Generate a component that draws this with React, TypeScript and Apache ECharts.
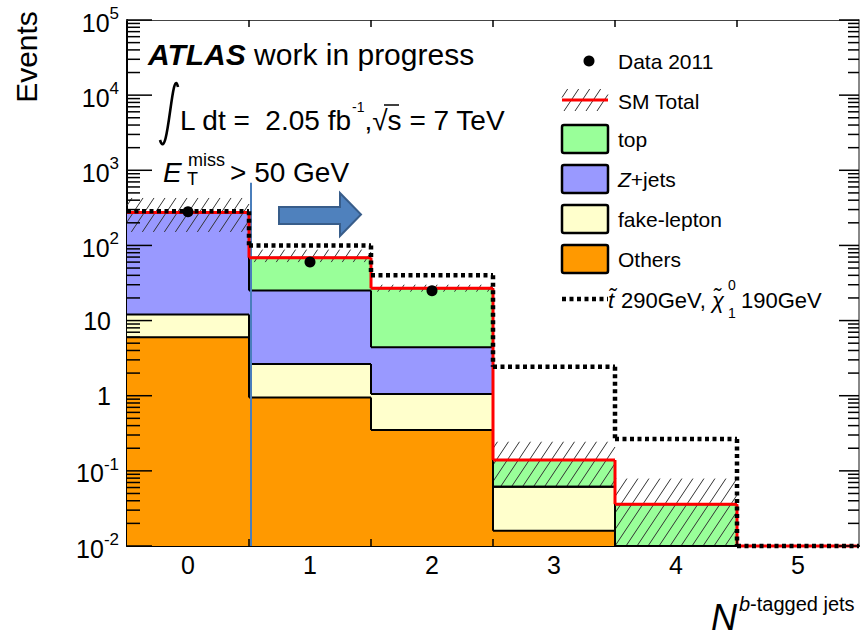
import React, { useEffect, useRef } from 'react';
import * as echarts from 'echarts';

// ---------------- data ----------------
const categories = ['0', '1', '2', '3', '4', '5'];
const others = [6.0, 0.95, 0.35, 0.016, 0, 0];
const fakeLepton = [6.0, 1.69, 0.7, 0.0455, 0, 0];
const zJets = [262, 22.4, 3.35, 0, 0, 0];
const topQuark = [1, 43.7, 22.5, 0.0775, 0.036, 0];
const data2011 = [280, 60, 25, 0, 0, 0];
const signalStop = [285, 100, 40, 2.43, 0.265, 0];
const bandUp = [428, 88, 30, 0.244, 0.079, 0];
const bandDown = [151, 60, 24.2, 0.0615, 0.01, 0];
const yTickExponents = [-2, -1, 0, 1, 2, 3, 4, 5];
const Y_MIN = 0.01;
const Y_MAX = 1e5;
const cutTop = 680;

const FONT = "'Liberation Sans', Arial, Helvetica, sans-serif";

const GRID = { left: 127, right: 2, top: 20, bottom: 92 };
const W = 861;
const H = 638;

const layers = [
  { name: 'Others', values: others, color: '#ff9900' },
  { name: 'fake-lepton', values: fakeLepton, color: '#ffffcc' },
  { name: 'Z+jets', values: zJets, color: '#9999ff' },
  { name: 'top', values: topQuark, color: '#99ff99' },
];

const cumulative = layers.map((_, k) =>
  categories.map((__, i) => layers.slice(0, k + 1).reduce((s, l) => s + l.values[i], 0))
);
const smTotal = cumulative[cumulative.length - 1];
const clampY = (v: number) => Math.max(v, Y_MIN);

const majorTickValues = yTickExponents.map((e) => Math.pow(10, e));
const minorTickValues: number[] = [];
for (let e = -2; e < 5; e++) for (let m = 2; m <= 9; m++) minorTickValues.push(m * Math.pow(10, e));

function hatchLines(x0: number, y0: number, x1: number, y1: number, spacing = 11, k = 1.5) {
  const out: number[][] = [];
  const cStart = Math.ceil((x0 + y0 / k) / spacing) * spacing;
  const cEnd = x1 + y1 / k;
  for (let c = cStart; c <= cEnd; c += spacing) {
    const xa = Math.max(x0, c - y1 / k);
    const xb = Math.min(x1, c - y0 / k);
    if (xb > xa) out.push([xa, k * (c - xa), xb, k * (c - xb)]);
  }
  return out;
}

function hatchElements(x0: number, y0: number, x1: number, y1: number) {
  return hatchLines(x0, y0, x1, y1).map((l) => ({
    type: 'line',
    shape: { x1: l[0], y1: l[1], x2: l[2], y2: l[3] },
    style: { stroke: '#333', lineWidth: 1 },
  }));
}

function stepRenderer(values: number[], style: any) {
  return (params: any, api: any) => {
    const i = params.dataIndex;
    const bw = api.size([1, 0])[0];
    const cx = api.coord([i, Y_MIN])[0];
    const x0 = cx - bw / 2;
    const x1 = cx + bw / 2;
    const y = api.coord([i, clampY(values[i])])[1];
    const children: any[] = [
      { type: 'line', shape: { x1: x0, y1: y, x2: x1, y2: y }, style: { ...style } },
    ];
    if (i < values.length - 1) {
      const yn = api.coord([i + 1, clampY(values[i + 1])])[1];
      children.push({ type: 'line', shape: { x1: x1, y1: y, x2: x1, y2: yn }, style: { ...style } });
    }
    return { type: 'group', children };
  };
}

// frame tick decorations (ROOT style), laid out on the grid box
function frameTicks() {
  const gx0 = GRID.left;
  const gx1 = W - GRID.right;
  const gy0 = GRID.top;
  const gy1 = H - GRID.bottom;
  const lMin = Math.log10(Y_MIN);
  const lMax = Math.log10(Y_MAX);
  const yOf = (v: number) => gy0 + ((lMax - Math.log10(v)) / (lMax - lMin)) * (gy1 - gy0);
  const st = { stroke: '#000', lineWidth: 1.5 };
  const out: any[] = [];
  const addY = (v: number, lenL: number, lenR: number) => {
    const y = yOf(v);
    out.push({ type: 'line', z: 100, shape: { x1: gx0, y1: y, x2: gx0 + lenL, y2: y }, style: { ...st } });
    out.push({ type: 'line', z: 100, shape: { x1: gx1 - lenR, y1: y, x2: gx1, y2: y }, style: { ...st } });
  };
  minorTickValues.forEach((v) => addY(v, 13, 11));
  majorTickValues.forEach((v) => addY(v, 25, 20));
  const bw = (gx1 - gx0) / categories.length;
  for (let i = 1; i < categories.length; i++) {
    const x = gx0 + bw * i;
    out.push({ type: 'line', z: 100, shape: { x1: x, y1: gy0, x2: x, y2: gy0 + 7 }, style: { ...st } });
    out.push({ type: 'line', z: 100, shape: { x1: x, y1: gy1, x2: x, y2: gy1 - 7 }, style: { ...st } });
  }
  return out;
}

const binData = categories.map((_, i) => [i, clampY(smTotal[i])]);

export default function App() {
  const ref = useRef<HTMLDivElement>(null);
  useEffect(() => {
    const chart = echarts.init(ref.current!, null, { renderer: 'svg' });

    const series: any[] = [];

    // stacked fills
    series.push({
      type: 'custom',
      z: 2,
      data: binData,
      encode: { x: 0, y: 1 },
      renderItem: (params: any, api: any) => {
        const i = params.dataIndex;
        const bw = api.size([1, 0])[0];
        const cx = api.coord([i, Y_MIN])[0];
        const x0 = cx - bw / 2;
        const children: any[] = [];
        let lo = Y_MIN;
        layers.forEach((l, k) => {
          const hi = clampY(cumulative[k][i]);
          if (hi > lo) {
            const yt = api.coord([i, hi])[1];
            const yb = api.coord([i, lo])[1];
            children.push({
              type: 'rect',
              shape: { x: x0, y: yt, width: bw, height: yb - yt },
              style: { fill: l.color },
            });
          }
          lo = Math.max(lo, hi);
        });
        return { type: 'group', children };
      },
    });

    // uncertainty hatch band
    series.push({
      type: 'custom',
      z: 3,
      data: binData,
      encode: { x: 0, y: 1 },
      renderItem: (params: any, api: any) => {
        const i = params.dataIndex;
        if (!(bandUp[i] > 0)) return { type: 'group', children: [] };
        const bw = api.size([1, 0])[0];
        const cx = api.coord([i, Y_MIN])[0];
        const yt = api.coord([i, clampY(bandUp[i])])[1];
        const yb = api.coord([i, clampY(bandDown[i])])[1];
        return { type: 'group', children: hatchElements(cx - bw / 2, yt, cx + bw / 2, yb) };
      },
    });

    // stack outlines
    cumulative.forEach((cum) => {
      series.push({
        type: 'custom',
        z: 4,
        data: binData,
        encode: { x: 0, y: 1 },
        renderItem: stepRenderer(cum, { stroke: '#000', lineWidth: 2 }),
      });
    });

    // cut line
    series.push({
      type: 'custom',
      z: 5,
      data: [[0, cutTop]],
      encode: { x: 0, y: 1 },
      renderItem: (params: any, api: any) => {
        const bw = api.size([1, 0])[0];
        const x = api.coord([0, Y_MIN])[0] + bw / 2 + 2;
        const yt = api.coord([0, cutTop])[1];
        const yb = api.coord([0, Y_MIN])[1];
        return {
          type: 'line',
          shape: { x1: x, y1: yt, x2: x, y2: yb },
          style: { stroke: '#4a7ebb', lineWidth: 2 },
        };
      },
    });

    // SM total
    series.push({
      type: 'custom',
      z: 6,
      data: binData,
      encode: { x: 0, y: 1 },
      renderItem: stepRenderer(smTotal, { stroke: '#ff0000', lineWidth: 3 }),
    });

    // signal
    series.push({
      type: 'custom',
      z: 7,
      data: binData,
      encode: { x: 0, y: 1 },
      renderItem: stepRenderer(signalStop, { stroke: '#000', lineWidth: 4.5, lineDash: [4, 3.5] }),
    });

    // data points
    series.push({
      type: 'custom',
      z: 8,
      data: binData,
      encode: { x: 0, y: 1 },
      renderItem: (params: any, api: any) => {
        const i = params.dataIndex;
        const v = data2011[i];
        if (!(v > 0)) return { type: 'group', children: [] };
        const p = api.coord([i, v]);
        return { type: 'circle', shape: { cx: p[0], cy: p[1], r: 5.5 }, style: { fill: '#000' } };
      },
    });

    const labelRich = {
      b: { fontSize: 25, fontFamily: FONT, color: '#000', lineHeight: 30, verticalAlign: 'bottom' },
      s: { fontSize: 17, fontFamily: FONT, color: '#000', lineHeight: 12, verticalAlign: 'top' },
      p: { fontSize: 25, fontFamily: FONT, color: '#000', lineHeight: 30, padding: [0, 8, 0, 0] },
    };

    const legendX0 = 562;
    const legendX1 = 608;
    const textX = 618;
    const boxItems = [
      { name: 'top', color: '#99ff99', y: 139 },
      { name: 'Z+jets', color: '#9999ff', y: 179 },
      { name: 'fake-lepton', color: '#ffffcc', y: 219 },
      { name: 'Others', color: '#ff9900', y: 259 },
    ];

    const legendText = (text: string, y: number, extra: any = {}) => ({
      type: 'text',
      x: textX,
      y,
      style: { text, fontSize: 21, fontFamily: FONT, fill: '#000', align: 'left', verticalAlign: 'middle', ...extra },
    });

    const graphic: any[] = [
      // Events
      {
        type: 'text', x: 26, y: 57, rotation: Math.PI / 2,
        style: { text: 'Events', fontSize: 30, fontFamily: FONT, fill: '#000', align: 'center', verticalAlign: 'middle' },
      },
      // x title
      {
        type: 'text', x: 737, y: 617,
        style: { text: 'N', fontSize: 36, fontStyle: 'italic', fontFamily: FONT, fill: '#000', align: 'right', verticalAlign: 'middle' },
      },
      {
        type: 'text', x: 739, y: 604,
        style: {
          text: '{i|b}-tagged jets', fontSize: 20, fontFamily: FONT, fill: '#000', align: 'left', verticalAlign: 'middle',
          rich: { i: { fontStyle: 'italic', fontSize: 20, fontFamily: FONT } },
        },
      },
      // ATLAS
      {
        type: 'text', x: 148, y: 54.5,
        style: {
          text: '{a|ATLAS} work in progress', fontSize: 30, fontFamily: FONT, fill: '#000', align: 'left', verticalAlign: 'middle',
          rich: { a: { fontSize: 30, fontWeight: 'bold', fontStyle: 'italic', fontFamily: FONT } },
        },
      },
      // integral sign
      {
        type: 'bezierCurve',
        shape: { x1: 178, y1: 87, cpx1: 172, cpy1: 62, cpx2: 168, cpy2: 166, x2: 160, y2: 140 },
        style: { stroke: '#000', lineWidth: 2.6, fill: 'none' },
      },
      {
        type: 'text', x: 180, y: 117,
        style: {
          text: '{m|L dt =  2.05 fb}{s|-1}{m|,\u221A}{m|s = 7 TeV}',
          fontSize: 28, fontFamily: FONT, fill: '#000', verticalAlign: 'middle',
          rich: {
            m: { fontSize: 28, fontFamily: FONT, lineHeight: 34, verticalAlign: 'bottom' },
            s: { fontSize: 14, fontFamily: FONT, lineHeight: 14, verticalAlign: 'top' },
          },
        },
      },
      { type: 'line', shape: { x1: 384, y1: 105, x2: 399, y2: 105 }, style: { stroke: '#000', lineWidth: 1.5 } },
      // Etmiss
      { type: 'text', x: 163, y: 172, style: { text: 'E', fontSize: 28, fontStyle: 'italic', fontFamily: FONT, fill: '#000', verticalAlign: 'middle' } },
      { type: 'text', x: 187, y: 179, style: { text: 'T', fontSize: 18, fontFamily: FONT, fill: '#000', verticalAlign: 'middle' } },
      { type: 'text', x: 188, y: 160, style: { text: 'miss', fontSize: 18, fontFamily: FONT, fill: '#000', verticalAlign: 'middle' } },
      { type: 'text', x: 230, y: 172, style: { text: '> 50 GeV', fontSize: 28, fontFamily: FONT, fill: '#000', verticalAlign: 'middle' } },
      // arrow
      {
        type: 'polygon',
        shape: { points: [[279, 207], [340, 207], [340, 193], [361, 214.5], [340, 236], [340, 224], [279, 224]] },
        style: { fill: '#4f81bd', stroke: '#385d8a', lineWidth: 2 },
      },
      // legend: data
      { type: 'circle', shape: { cx: 589, cy: 61, r: 5.5 }, style: { fill: '#000' } },
      legendText('Data 2011', 61),
      // legend: SM total
      ...hatchElements(legendX0, 89, legendX1, 111),
      { type: 'line', shape: { x1: legendX0, y1: 100, x2: legendX1, y2: 100 }, style: { stroke: '#ff0000', lineWidth: 3 } },
      legendText('SM Total', 101),
      // boxes
      ...boxItems.flatMap((b) => [
        {
          type: 'rect',
          shape: { x: legendX0, y: b.y - 14, width: legendX1 - legendX0, height: 28, r: 2 },
          style: { fill: b.color, stroke: '#000', lineWidth: 2.5 },
        },
        legendText(b.name, b.y, b.name === 'Z+jets' ? { text: '{i|Z}+jets', rich: { i: { fontStyle: 'italic', fontSize: 21, fontFamily: FONT } } } : {}),
      ]),
      // signal legend
      { type: 'line', shape: { x1: legendX0, y1: 299, x2: legendX1, y2: 299 }, style: { stroke: '#000', lineWidth: 4.5, lineDash: [4, 3.5] } },
      { type: 'text', x: 608, y: 300, style: { text: 't\u0303', fontSize: 22, fontStyle: 'italic', fontFamily: FONT, fill: '#000', verticalAlign: 'middle' } },
      { type: 'text', x: 621, y: 300, style: { text: '290GeV,', fontSize: 22, fontFamily: FONT, fill: '#000', verticalAlign: 'middle' } },
      { type: 'text', x: 712, y: 300, style: { text: '\u03C7\u0303', fontSize: 22, fontStyle: 'italic', fontFamily: FONT, fill: '#000', verticalAlign: 'middle' } },
      { type: 'text', x: 728, y: 285, style: { text: '0', fontSize: 14, fontFamily: FONT, fill: '#000', verticalAlign: 'middle' } },
      { type: 'text', x: 728, y: 313, style: { text: '1', fontSize: 14, fontFamily: FONT, fill: '#000', verticalAlign: 'middle' } },
      { type: 'text', x: 741, y: 300, style: { text: '190GeV', fontSize: 22, fontFamily: FONT, fill: '#000', verticalAlign: 'middle' } },
      // frame ticks
      ...frameTicks(),
    ];

    const option: any = {
      animation: false,
      backgroundColor: '#fff',
      grid: { ...GRID, containLabel: false },
      xAxis: [
        {
          type: 'category',
          data: categories,
          boundaryGap: true,
          position: 'bottom',
          axisLine: { show: true, lineStyle: { color: '#000', width: 2 } },
          axisTick: { show: false },
          axisLabel: { fontSize: 25, fontFamily: FONT, color: '#000', margin: 6 },
          splitLine: { show: false },
        },
        {
          type: 'category',
          data: categories,
          boundaryGap: true,
          position: 'top',
          axisLine: { show: true, lineStyle: { color: '#444', width: 1 } },
          axisTick: { show: false },
          axisLabel: { show: false },
          splitLine: { show: false },
        },
      ],
      yAxis: [
        {
          type: 'log',
          logBase: 10,
          min: Y_MIN,
          max: Y_MAX,
          splitNumber: yTickExponents.length - 1,
          position: 'left',
          axisLine: { show: true, lineStyle: { color: '#000', width: 2 } },
          axisTick: { show: false },
          axisLabel: {
            margin: 8,
            formatter: (v: number) => {
              const e = Math.round(Math.log10(v));
              if (e === 0) return '{p|1}';
              if (e === 1) return '{p|10}';
              return `{b|10}{s|${e}}`;
            },
            rich: labelRich,
          },
          splitLine: { show: false },
        },
        {
          type: 'log',
          logBase: 10,
          min: Y_MIN,
          max: Y_MAX,
          splitNumber: yTickExponents.length - 1,
          position: 'right',
          axisLine: { show: true, lineStyle: { color: '#888', width: 2 } },
          axisTick: { show: false },
          axisLabel: { show: false },
          splitLine: { show: false },
        },
      ],
      series,
      graphic,
    };

    chart.setOption(option);
    return () => chart.dispose();
  }, []);

  return (
    <div
      ref={ref}
      style={{ position: 'fixed', left: 0, top: 0, width: W, height: H, background: '#fff' }}
    />
  );
}
